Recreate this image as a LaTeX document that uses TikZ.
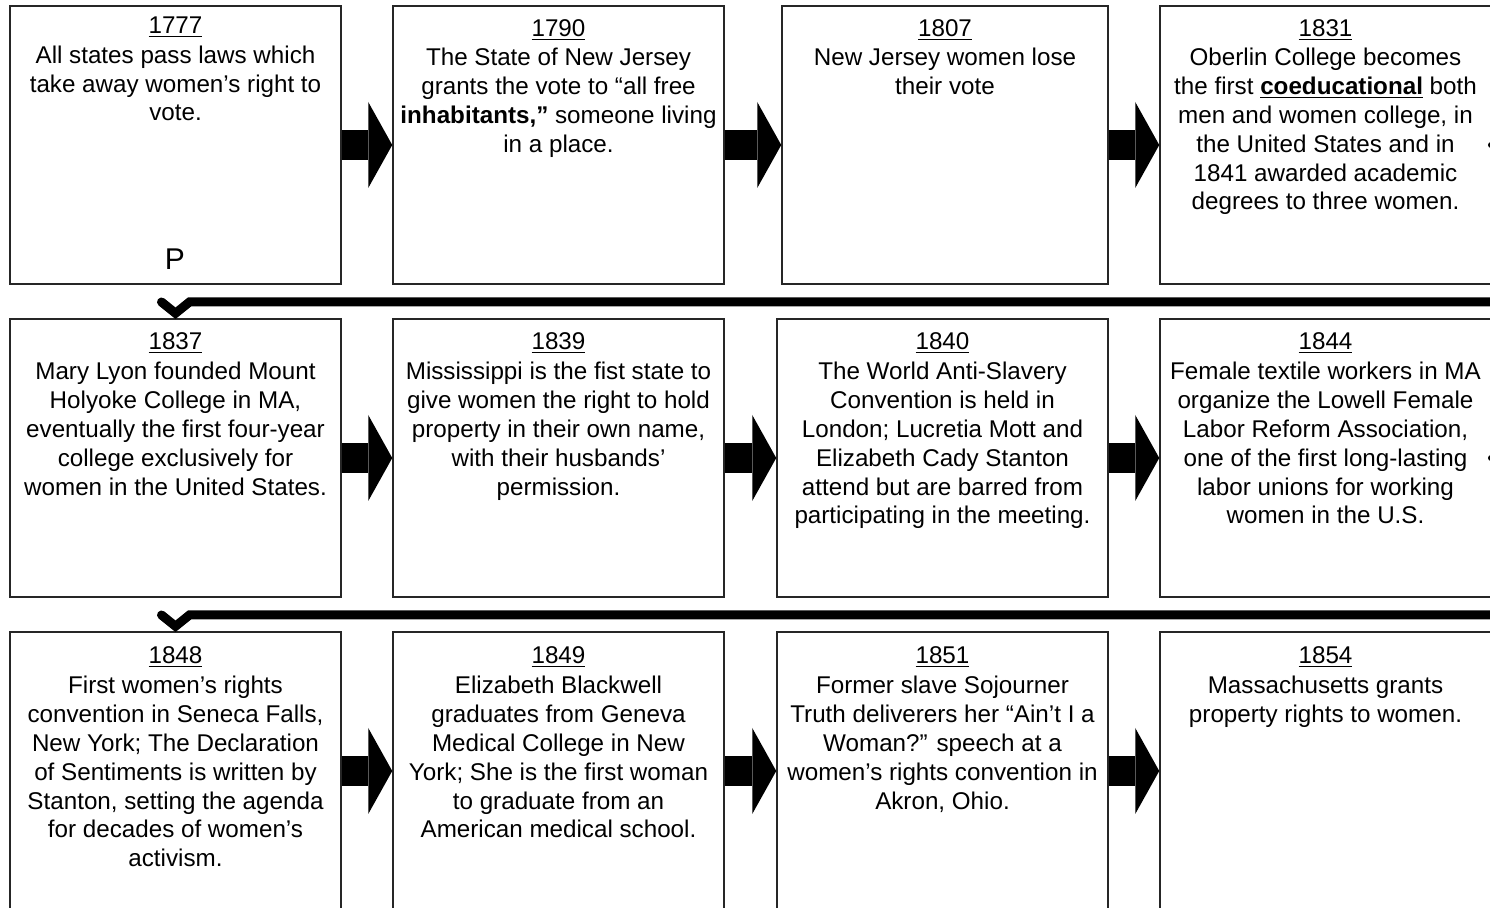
\documentclass[tikz,border=0pt]{standalone}
\usepackage{fontspec}
\setmainfont{Liberation Sans}
\usetikzlibrary{arrows.meta,calc}

\begin{document}
\begin{tikzpicture}[x=0.5pt, y=-0.5pt,
eventbox/.style={rectangle, draw=black!85, line width=0.75pt, minimum width=165.5pt, minimum height=139pt, inner sep=0pt},
eventtext/.style={anchor=north, align=center, inner sep=0pt, font=\fontsize{12.1}{14.45}\selectfont},
flowarrow/.style={line width=15pt, -{Triangle[length=12pt, width=43pt, line width=0pt]}},
rowlink/.style={line width=4.5pt, line cap=round, line join=miter},
]
\useasboundingbox (0,0) rectangle (1490,908);
\clip (0,0) rectangle (1490,908);

%Boxes
\node[eventbox] (box1777) at (175.5,145) {};
\node[eventbox] (box1790) at (558.5,145) {};
\node[eventbox, minimum width=163pt] (box1807) at (945,145) {};
\node[eventbox] (box1831) at (1325.5,145) {};
\node[eventbox] (box1837) at (175.5,458) {};
\node[eventbox] (box1839) at (558.5,458) {};
\node[eventbox] (box1840) at (942.5,458) {};
\node[eventbox] (box1844) at (1325.5,458) {};
\node[eventbox] (box1848) at (175.5,771) {};
\node[eventbox] (box1849) at (558.5,771) {};
\node[eventbox] (box1851) at (942.5,771) {};
\node[eventbox] (box1854) at (1325.5,771) {};

%Texts
\node[eventtext] (txt1777) at ([yshift=-5.5pt]box1777.north) {\underline{1777}\\[0.5pt]All states pass laws which\\take away women’s right to\\vote.};
\node[eventtext, anchor=center, font=\fontsize{15}{18}\selectfont] (mark1777) at (175,259) {P};
\node[eventtext] (txt1790) at ([yshift=-7pt]box1790.north) {\underline{1790}\\The State of New Jersey\\grants the vote to “all free\\\textbf{inhabitants,”} someone living\\in a place.};
\node[eventtext] (txt1807) at ([yshift=-7pt]box1807.north) {\underline{1807}\\New Jersey women lose\\their vote};
\node[eventtext] (txt1831) at ([yshift=-7pt]box1831.north) {\underline{1831}\\Oberlin College becomes\\the first \underline{\textbf{coeducational}} both\\men and women college, in\\the United States and in\\1841 awarded academic\\degrees to three women.};
\node[eventtext] (txt1837) at ([yshift=-7pt]box1837.north) {\underline{1837}\\[0.5pt]Mary Lyon founded Mount\\Holyoke College in MA,\\eventually the first four-year\\college exclusively for\\women in the United States.};
\node[eventtext] (txt1839) at ([yshift=-7pt]box1839.north) {\underline{1839}\\[0.5pt]Mississippi is the fist state to\\give women the right to hold\\property in their own name,\\with their husbands’\\permission.};
\node[eventtext] (txt1840) at ([yshift=-7pt]box1840.north) {\underline{1840}\\[0.5pt]The World Anti-Slavery\\Convention is held in\\London; Lucretia Mott and\\Elizabeth Cady Stanton\\attend but are barred from\\participating in the meeting.};
\node[eventtext] (txt1844) at ([yshift=-7pt]box1844.north) {\underline{1844}\\[0.5pt]Female textile workers in MA\\organize the Lowell Female\\Labor Reform Association,\\one of the first long-lasting\\labor unions for working\\women in the U.S.};
\node[eventtext] (txt1848) at ([yshift=-7.5pt]box1848.north) {\underline{1848}\\[0.5pt]First women’s rights\\convention in Seneca Falls,\\New York; The Declaration\\of Sentiments is written by\\Stanton, setting the agenda\\for decades of women’s\\activism.};
\node[eventtext] (txt1849) at ([yshift=-7.5pt]box1849.north) {\underline{1849}\\[0.5pt]Elizabeth Blackwell\\graduates from Geneva\\Medical College in New\\York; She is the first woman\\to graduate from an\\American medical school.};
\node[eventtext] (txt1851) at ([yshift=-7.5pt]box1851.north) {\underline{1851}\\[0.5pt]Former slave Sojourner\\Truth deliverers her “Ain’t I a\\Woman?” speech at a\\women’s rights convention in\\Akron, Ohio.};
\node[eventtext] (txt1854) at ([yshift=-7.5pt]box1854.north) {\underline{1854}\\[0.5pt]Massachusetts grants\\property rights to women.};

%Arrows
\draw[flowarrow] (box1777.east) -- (box1790.west);
\draw[flowarrow] (box1790.east) -- (box1807.west);
\draw[flowarrow] (box1807.east) -- (box1831.west);
\draw[flowarrow] (box1837.east) -- (box1839.west);
\draw[flowarrow] (box1839.east) -- (box1840.west);
\draw[flowarrow] (box1840.east) -- (box1844.west);
\draw[flowarrow] (box1848.east) -- (box1849.west);
\draw[flowarrow] (box1849.east) -- (box1851.west);
\draw[flowarrow] (box1851.east) -- (box1854.west);

%Row links
\coordinate (link1) at (1500,302);
\coordinate (link2) at (1500,615);
\draw[rowlink] (link1) -- ($(box1837.north |- link1)+(14,0)$) -- ($(box1837.north)+(0,-5)$) -- ($(box1837.north |- link1)+(-14,0)$);
\draw[rowlink] (link2) -- ($(box1848.north |- link2)+(14,0)$) -- ($(box1848.north)+(0,-5)$) -- ($(box1848.north |- link2)+(-14,0)$);

%Edge marks
\fill (1491,145) circle (3);
\fill (1491,458) circle (3);
\end{tikzpicture}
\end{document}
